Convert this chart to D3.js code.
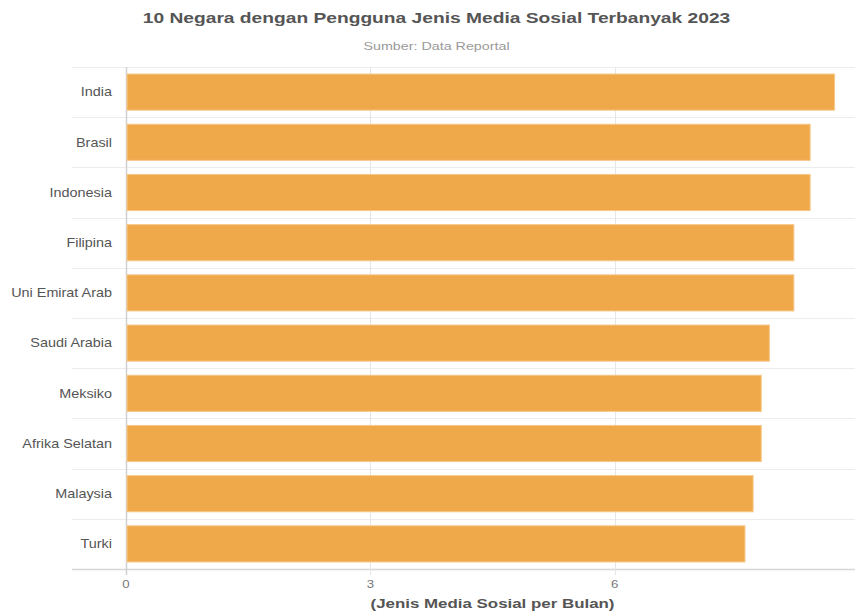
<!DOCTYPE html>
<html>
<head>
<meta charset="utf-8">
<script src="https://cdn.jsdelivr.net/npm/d3@7"></script>
<style>
  body { margin: 0; background: #fff; }
  svg { font-family: Arial, "Liberation Sans", sans-serif; }
</style>
</head>
<body>
<div id="chart"></div>
<script>
const countries = ['India', 'Brasil', 'Indonesia', 'Filipina', 'Uni Emirat Arab',
  'Saudi Arabia', 'Meksiko', 'Afrika Selatan', 'Malaysia', 'Turki'];
const values = [8.7, 8.4, 8.4, 8.2, 8.2, 7.9, 7.8, 7.8, 7.7, 7.6];
const xTicks = [0, 3, 6, 9];

const data = countries.map((name, i) => ({ name, value: values[i] }));

const width = 855;
const height = 612;
const margin = { top: 67, right: -4, bottom: 43, left: 126 };

const svg = d3.select('#chart').append('svg')
  .attr('width', width)
  .attr('height', height);

const xScale = d3.scaleLinear()
  .domain([0, 9])
  .range([margin.left, width - margin.right]);

const yScale = d3.scaleBand()
  .domain(countries)
  .range([margin.top, height - margin.bottom])
  .paddingInner(0.28)
  .paddingOuter(0.14);

// text in the reference is a bit stretched sideways
function stretched(sel, x, y, sx) {
  return sel.attr('transform', `translate(${x},${y}) scale(${sx},1)`);
}

// horizontal band separators
const step = yScale.step();
const bandEdges = countries.map(c => yScale(c) - yScale.paddingInner() * step / 2);
bandEdges.push(height - margin.bottom);

svg.append('g')
  .selectAll('line')
  .data(bandEdges)
  .join('line')
  .attr('x1', 72)
  .attr('x2', width)
  .attr('y1', d => Math.round(d) + 0.5)
  .attr('y2', d => Math.round(d) + 0.5)
  .attr('stroke', (d, i) => i === bandEdges.length - 1 ? '#d6d6d6' : '#ececec')
  .attr('stroke-width', (d, i) => i === bandEdges.length - 1 ? 1.5 : 1);

// vertical grid
svg.append('g')
  .selectAll('line')
  .data(xTicks)
  .join('line')
  .attr('x1', d => Math.round(xScale(d)) + 0.5)
  .attr('x2', d => Math.round(xScale(d)) + 0.5)
  .attr('y1', margin.top)
  .attr('y2', height - margin.bottom + 6)
  .attr('stroke', (d) => d === 0 ? '#d0d0d0' : '#e6e6e6')
  .attr('stroke-width', d => d === 0 ? 1.5 : 1);

// bars
svg.append('g')
  .selectAll('rect')
  .data(data)
  .join('rect')
  .attr('x', xScale(0) + 1)
  .attr('y', d => yScale(d.name))
  .attr('width', d => xScale(d.value) - xScale(0) - 1)
  .attr('height', yScale.bandwidth())
  .attr('fill', '#efa94b')
  .attr('stroke', '#f6c98a')
  .attr('stroke-width', 1);

// y labels
svg.append('g')
  .selectAll('text')
  .data(countries)
  .join('text')
  .each(function (d) {
    stretched(d3.select(this), 112, yScale(d) + yScale.bandwidth() / 2, 1.2);
  })
  .attr('dy', '0.35em')
  .attr('text-anchor', 'end')
  .attr('font-size', 12)
  .attr('fill', '#555')
  .text(d => d);

// x tick labels (the last one falls outside the picture)
svg.append('g')
  .selectAll('text')
  .data(xTicks.filter(d => xScale(d) < width - 5))
  .join('text')
  .each(function (d) {
    stretched(d3.select(this), xScale(d), 588, 1.2);
  })
  .attr('text-anchor', 'middle')
  .attr('font-size', 11)
  .attr('fill', '#777')
  .text(d => d);

// titles
stretched(svg.append('text'), width / 2 + 9, 23, 1.24)
  .attr('text-anchor', 'middle')
  .attr('font-size', 15.5)
  .attr('font-weight', 'bold')
  .attr('fill', '#555')
  .text('10 Negara dengan Pengguna Jenis Media Sosial Terbanyak 2023');

stretched(svg.append('text'), width / 2 + 9, 50, 1.3)
  .attr('text-anchor', 'middle')
  .attr('font-size', 11)
  .attr('fill', '#999')
  .text('Sumber: Data Reportal');

stretched(svg.append('text'), (margin.left + xScale(9)) / 2, 608, 1.3)
  .attr('text-anchor', 'middle')
  .attr('font-size', 13)
  .attr('font-weight', 'bold')
  .attr('fill', '#555')
  .text('(Jenis Media Sosial per Bulan)');
</script>
</body>
</html>
